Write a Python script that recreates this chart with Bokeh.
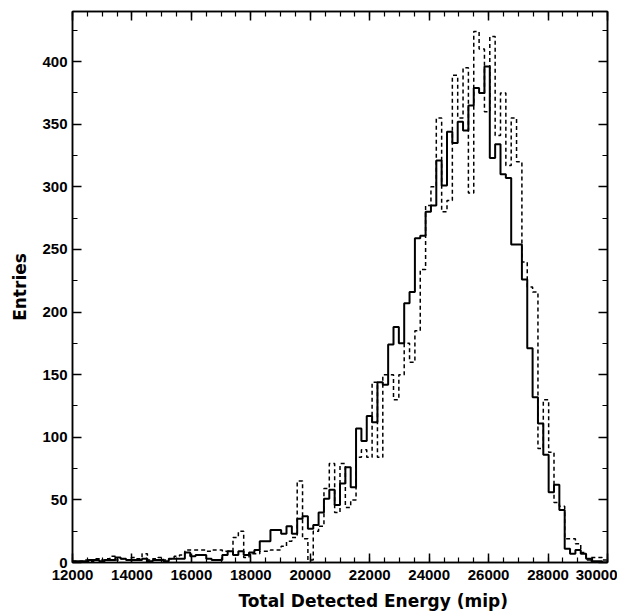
from bokeh.plotting import figure
from bokeh.models import LinearAxis, Range1d, SingleIntervalTicker, Title, CustomJSTickFormatter
from bokeh.embed import file_html
from bokeh.resources import INLINE

# Histogram binning
x_min = 12000
x_max = 30000
n_bins = 100

# Solid histogram (entries per bin)
solid = [1, 1, 1, 2, 2, 1, 2, 2, 4, 3,
         2, 2, 2, 3, 1, 2, 2, 1, 3, 3,
         3, 8, 5, 6, 6, 3, 2, 2, 6, 9,
         6, 9, 6, 8, 10, 17, 17, 26, 26, 23,
         29, 23, 35, 37, 27, 30, 40, 51, 58, 46,
         63, 76, 60, 107, 97, 117, 112, 144, 142, 174,
         188, 175, 207, 216, 259, 261, 280, 285, 321, 301,
         344, 335, 352, 345, 365, 379, 375, 396, 323, 334,
         310, 307, 254, 254, 226, 171, 132, 111, 86, 56,
         62, 42, 11, 7, 10, 7, 3, 1, 1, 0]

# Dashed histogram (entries per bin)
dashed = [1, 1, 2, 1, 3, 2, 3, 5, 2, 3,
          2, 4, 3, 7, 2, 3, 4, 2, 3, 5,
          6, 10, 10, 10, 10, 9, 10, 10, 9, 9,
          20, 25, 4, 7, 7, 9, 9, 10, 10, 13,
          17, 20, 65, 19, 2, 25, 29, 59, 79, 40,
          79, 44, 50, 84, 90, 84, 144, 84, 150, 150,
          130, 150, 175, 160, 185, 234, 285, 300, 355, 280,
          289, 389, 355, 395, 295, 424, 410, 360, 420, 341,
          375, 317, 355, 320, 240, 220, 216, 91, 130, 88,
          48, 45, 19, 19, 15, 8, 2, 4, 4, 2]

y_max = 440

x_title = "Total Detected Energy (mip)"
y_title = "Entries"

bw = (x_max - x_min) / n_bins
edges = [x_min + bw * i for i in range(n_bins + 1)]

p = figure(frame_width=535, frame_height=551, output_backend="svg", toolbar_location=None,
           x_range=Range1d(x_min, x_max), y_range=Range1d(0, y_max),
           min_border_left=72, min_border_right=10, min_border_top=11, min_border_bottom=4)
p.background_fill_color = "white"
p.border_fill_color = "white"
p.outline_line_color = "black"
p.outline_line_width = 1.5
p.xgrid.visible = False
p.ygrid.visible = False

p.step(edges, dashed + [dashed[-1]], mode="after", line_color="black",
       line_width=1.5, line_dash="4 3")
p.step(edges, solid + [solid[-1]], mode="after", line_color="black", line_width=2)

label_font = "DejaVu Sans"
tick_font = "Liberation Sans"

def style_axis(ax, show_labels):
    ax.axis_line_color = "black"
    ax.axis_line_width = 1.5
    ax.major_tick_in = 9
    ax.major_tick_out = 0
    ax.minor_tick_in = 5
    ax.minor_tick_out = 0
    ax.major_tick_line_width = 1.5
    ax.minor_tick_line_width = 1.2
    ax.major_tick_line_color = "black"
    ax.minor_tick_line_color = "black"
    ax.major_label_text_font = tick_font
    ax.major_label_text_font_style = "bold"
    ax.major_label_text_color = "black"
    if show_labels:
        ax.major_label_text_font_size = "15px"
    else:
        ax.formatter = CustomJSTickFormatter(code="return ''")
        ax.major_label_text_font_size = "1px"
        ax.major_label_standoff = 0

p.xaxis.ticker = SingleIntervalTicker(interval=2000, num_minor_ticks=4)
p.yaxis.ticker = SingleIntervalTicker(interval=50, num_minor_ticks=2)
style_axis(p.xaxis[0], True)
style_axis(p.yaxis[0], True)
p.xaxis.major_label_standoff = 7
p.yaxis.major_label_standoff = 5

p.yaxis.axis_label = y_title
p.yaxis.axis_label_text_font = label_font
p.yaxis.axis_label_text_font_style = "bold"
p.yaxis.axis_label_text_font_size = "17px"
p.yaxis.axis_label_text_color = "black"
p.yaxis.axis_label_standoff = 9

xt = Title(text=x_title, align="left", offset=166, text_font=label_font,
           text_font_style="bold", text_font_size="17px", text_color="black",
           standoff=12)
p.add_layout(xt, "below")

top = LinearAxis(ticker=SingleIntervalTicker(interval=2000, num_minor_ticks=4))
style_axis(top, False)
p.add_layout(top, "above")
right = LinearAxis(ticker=SingleIntervalTicker(interval=50, num_minor_ticks=2))
style_axis(right, False)
p.add_layout(right, "right")

open("out.html", "w").write(file_html(p, INLINE))
